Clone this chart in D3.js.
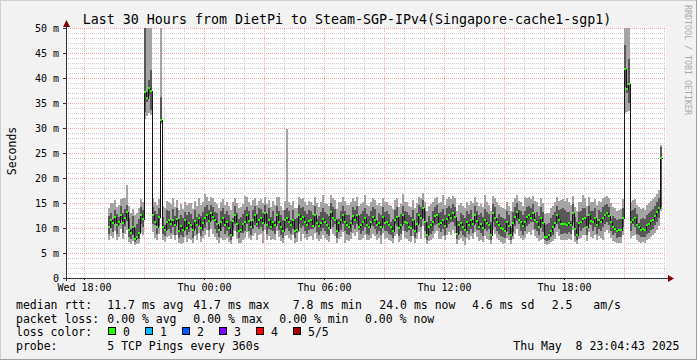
<!DOCTYPE html>
<html><head><meta charset="utf-8">
<script src="https://cdn.jsdelivr.net/npm/d3@7"></script>
<style>
html,body{margin:0;padding:0;background:#f2f2f2}
svg{display:block}
text{font-family:"DejaVu Sans Mono",monospace;fill:#000}
</style>
</head><body>
<svg id="chart" width="697" height="360"></svg>
<script>
// ---------- data ----------
const title = "Last 30 Hours from DietPi to Steam-SGP-IPv4(Singapore-cache1-sgp1)";
const endTime = Date.UTC(2025, 4, 8, 23, 4, 43);
const startTime = endTime - 30 * 3600 * 1000;
const firstSample = Date.UTC(2025, 4, 7, 19, 12, 0);
const stepSeconds = 360;

const median = [
10.3,11.6,11.0,12.3,10.6,11.2,12.7,11.0,12.0,13.3,
9.7,9.0,10.2,7.8,8.3,9.0,12.6,11.9,37.3,36.1,
38.0,37.5,12.6,11.3,10.3,12.2,31.6,10.2,9.7,11.3,
11.6,10.9,11.6,10.6,11.8,9.3,10.4,9.6,11.6,10.0,
11.1,10.6,9.6,11.4,10.6,12.1,10.0,11.0,12.0,12.7,
11.5,13.0,12.2,11.6,10.8,9.6,11.2,12.0,10.6,11.2,
10.1,8.6,11.4,12.7,10.9,9.3,9.6,10.8,11.2,12.6,
11.4,10.3,11.6,12.6,10.9,11.6,12.0,11.0,13.0,10.6,
11.6,10.3,11.2,10.6,12.6,11.3,10.3,9.3,11.6,12.0,
11.2,10.6,11.6,9.3,9.6,12.6,11.9,12.2,11.2,10.6,
11.5,11.6,10.4,12.6,11.0,10.4,11.0,11.8,11.2,10.6,
10.0,13.3,12.0,11.6,9.3,11.0,11.6,12.6,11.2,10.6,
10.3,11.0,12.4,11.6,12.6,10.3,10.6,11.2,12.0,10.6,
10.3,11.3,12.2,11.6,10.6,11.1,10.3,12.3,11.0,11.2,
10.6,10.3,9.3,11.6,12.3,10.0,10.6,12.6,11.2,11.0,
10.3,10.0,11.6,9.3,10.9,12.6,12.0,14.0,11.3,8.6,
10.3,10.6,11.2,12.4,12.6,10.8,11.0,11.6,10.4,11.8,
12.6,12.0,13.0,12.3,8.9,10.6,11.0,10.3,9.6,11.2,
10.6,11.6,10.9,12.6,11.4,10.3,10.8,10.0,11.6,11.0,
10.6,8.6,13.0,12.1,11.2,10.6,10.0,9.8,9.3,11.2,
10.4,8.6,11.0,12.2,13.3,11.6,11.2,10.4,11.2,12.2,
12.6,12.0,13.0,11.6,11.2,10.3,12.1,11.0,8.3,8.3,
8.5,9.5,10.3,11.0,12.6,11.6,10.8,10.8,10.9,10.6,
11.0,10.6,13.0,9.9,8.6,11.0,11.3,11.8,12.0,10.3,
12.6,11.4,11.2,12.0,10.6,11.6,11.3,12.0,12.6,13.0,
12.4,11.2,10.3,9.8,9.3,9.6,9.6,12.0,41.7,37.9,
38.8,11.3,11.6,12.0,10.6,10.2,9.6,9.8,9.6,10.6,
10.9,11.4,11.7,12.4,13.2,14.0,24.0];

const pingMin = [
7.6,8.4,8.1,9.3,7.7,8.2,9.8,7.9,8.9,9.6,
7.2,6.9,7.4,6.6,6.8,7.0,9.0,8.7,31.8,32.4,
33.0,32.6,9.2,8.1,7.6,8.8,30.9,7.5,7.3,8.3,
8.4,7.9,8.6,7.5,8.7,7.0,6.9,7.1,8.2,7.3,
7.8,7.6,7.0,8.4,7.5,9.0,7.2,8.0,8.6,9.6,
8.2,9.8,8.8,8.3,7.7,7.1,8.0,7.6,7.6,8.1,
7.3,6.8,8.2,9.3,7.9,7.0,7.1,7.7,8.0,9.2,
8.1,7.5,8.4,9.0,7.6,8.5,8.8,7.0,9.6,7.6,
8.4,7.6,7.9,7.6,9.4,8.2,7.4,7.0,8.4,8.6,
8.0,7.6,8.5,7.0,7.2,9.2,7.4,8.9,8.0,7.5,
8.2,8.4,7.5,9.1,7.8,7.4,7.9,8.6,8.1,7.6,
7.2,9.9,8.8,8.4,7.0,7.8,8.3,9.2,7.0,7.6,
7.4,7.9,9.0,8.4,9.2,7.5,7.6,8.0,8.7,7.5,
7.5,8.1,8.9,8.4,7.6,8.0,6.8,9.0,7.9,8.1,
7.6,7.4,7.0,8.4,8.9,7.3,7.6,9.3,8.0,7.9,
7.4,7.2,8.4,7.0,7.8,9.2,7.8,10.4,8.1,6.8,
7.4,7.6,8.0,9.1,9.3,7.8,7.9,8.4,7.5,8.6,
9.2,8.7,9.6,9.0,6.9,7.6,8.0,7.4,6.7,8.0,
7.6,8.4,7.8,9.2,8.2,7.4,7.7,7.2,8.4,7.9,
7.6,6.8,9.6,8.8,8.0,7.5,7.2,6.8,7.0,8.0,
7.5,6.8,7.9,8.9,9.8,8.4,8.0,7.5,8.0,8.9,
9.2,8.7,9.6,8.4,8.0,7.4,7.6,7.9,6.8,6.7,
6.9,7.2,7.4,7.9,9.2,8.4,7.6,7.6,7.7,7.5,
7.9,7.6,9.6,7.3,6.8,7.9,8.1,8.6,8.7,7.4,
9.2,8.2,8.0,8.7,7.6,8.4,8.1,7.6,9.2,9.6,
9.0,8.0,7.4,7.2,7.0,7.1,7.1,8.7,33.0,33.2,
33.4,8.1,8.4,8.7,7.6,7.3,7.0,7.2,7.0,7.6,
7.8,8.2,8.5,9.1,9.7,10.4,13.4];

const pingQ1 = [
8.9,10.1,9.2,11.0,8.8,10.7,11.6,9.1,10.4,11.5,
8.3,7.9,8.6,7.3,7.9,7.9,10.9,10.2,33.2,35.2,
36.4,33.6,10.8,10.6,8.9,10.5,31.3,8.8,8.4,9.6,
9.8,9.1,10.2,8.7,11.2,8.1,8.6,8.2,9.7,8.6,
9.2,10.0,8.1,9.9,8.9,10.6,8.4,9.3,10.1,11.2,
9.6,11.4,11.6,9.8,9.0,8.2,9.4,10.3,8.8,9.5,
8.4,7.6,9.6,10.9,9.2,8.0,9.0,9.1,9.4,10.8,
9.5,8.7,9.8,10.7,10.2,9.9,10.2,9.3,11.2,8.9,
9.8,9.7,9.3,8.9,10.9,9.6,8.7,8.0,9.8,10.1,
9.4,8.9,9.9,8.0,9.0,10.8,10.0,10.4,9.3,8.8,
9.6,9.9,9.8,10.7,9.2,8.6,9.3,10.0,9.5,8.8,
8.4,11.6,10.2,10.9,8.0,9.2,9.7,10.8,9.4,8.9,
8.6,9.2,10.6,9.8,10.8,9.7,8.9,9.4,10.2,8.8,
8.7,10.6,10.4,9.8,8.8,9.4,8.6,10.5,9.3,9.5,
8.9,8.7,8.0,10.9,10.4,8.4,8.9,10.8,9.4,9.2,
9.6,8.4,9.8,8.0,9.1,10.8,10.2,12.1,9.5,7.6,
8.6,8.9,9.4,10.6,10.9,10.0,9.2,9.8,8.7,10.0,
10.8,11.2,11.2,10.5,7.8,8.9,9.3,8.6,8.2,9.4,
8.9,9.8,9.1,10.8,9.6,9.6,9.0,8.4,9.8,9.3,
9.9,7.6,11.2,10.3,9.4,8.8,8.4,8.3,8.0,9.4,
8.7,7.6,9.2,10.4,11.5,10.9,9.4,8.7,9.4,10.4,
10.8,11.3,11.2,9.8,9.4,8.6,10.3,9.2,7.5,7.4,
7.6,8.2,8.6,10.2,10.8,9.8,8.8,8.9,9.0,8.8,
9.2,8.9,11.2,8.4,7.6,10.3,9.5,10.0,10.2,8.6,
10.8,10.7,9.4,10.2,8.9,9.8,9.5,10.2,10.8,11.2,
10.6,9.4,8.6,9.1,8.0,8.2,8.2,10.2,38.3,37.0,
35.0,9.5,10.9,10.2,8.9,8.5,8.2,8.3,8.2,8.9,
9.1,9.6,9.9,10.6,11.3,12.0,14.3];

const pingQ3 = [
12.4,13.1,11.8,13.6,12.9,12.2,14.4,13.0,13.8,14.6,
12.0,9.8,12.4,10.1,10.8,11.9,14.2,13.6,55,37.2,
39.5,41.6,14.3,13.4,12.8,13.9,36.2,12.3,10.6,13.7,
13.4,11.5,13.8,12.4,13.9,11.8,12.7,12.1,13.2,12.6,
13.3,12.8,11.9,13.6,12.2,12.8,12.5,13.2,14.2,14.6,
13.6,14.6,14.1,13.2,13.0,10.4,13.5,14.0,12.9,13.4,
12.6,11.4,12.0,14.5,13.0,11.8,12.2,12.9,13.6,14.3,
13.5,11.2,13.7,14.4,12.8,13.9,13.8,13.1,14.7,12.9,
13.9,12.3,13.5,11.4,14.5,13.4,12.6,11.6,13.6,14.0,
13.4,11.6,13.6,11.9,12.1,14.6,13.9,14.1,13.5,12.8,
13.7,13.5,12.7,14.5,11.8,12.4,13.3,13.9,13.2,12.9,
12.4,15.0,14.1,13.8,11.8,11.8,13.4,14.4,13.5,12.7,
12.6,11.7,14.3,13.7,14.5,12.4,12.9,13.4,14.0,12.8,
12.5,13.5,14.2,13.8,11.4,13.1,12.6,14.3,13.2,13.5,
12.8,11.2,11.9,13.7,14.3,12.3,12.9,14.5,13.4,13.2,
12.6,12.3,13.6,10.4,13.1,14.6,14.1,15.6,13.5,11.2,
12.5,11.5,13.4,14.3,14.6,13.1,13.2,13.8,12.6,13.9,
14.5,14.0,14.8,14.2,11.4,11.5,13.1,12.6,12.1,13.4,
12.8,13.6,11.7,14.5,13.4,12.6,13.0,12.3,13.8,13.2,
12.8,11.2,14.8,14.1,12.0,12.8,12.3,12.0,11.8,13.4,
12.6,10.0,13.2,14.2,15.0,13.7,13.5,12.6,13.4,14.2,
14.5,14.0,14.8,12.3,13.3,12.5,14.1,13.2,10.6,10.8,
11.0,12.0,12.6,13.2,14.5,13.6,13.8,14.0,13.6,13.3,
13.3,11.4,14.8,12.2,11.2,13.2,13.4,13.9,14.0,12.5,
14.5,13.4,13.4,14.0,11.5,13.7,13.3,14.1,14.6,14.8,
14.3,11.9,12.4,12.0,11.6,11.8,11.9,14.0,46.6,38.6,
43.8,13.4,13.7,14.0,12.8,11.0,11.9,12.0,11.8,12.6,
13.0,13.5,13.8,14.4,15.1,15.9,26.3];

const pingMax = [
14.0,14.9,15.0,15.6,14.2,14.6,15.8,16.0,15.9,18.6,
14.4,13.0,13.8,12.6,13.1,13.9,15.7,15.2,62,58,
56,54,16.0,15.1,14.6,15.8,57,14.4,13.9,15.5,
15.2,14.8,15.9,14.1,15.6,13.7,14.8,13.8,15.3,14.6,
15.0,14.9,13.8,15.4,14.4,15.9,14.6,15.1,16.8,16.3,
15.4,16.2,15.9,15.1,14.8,14.0,15.2,15.8,14.6,15.3,
14.5,13.6,15.3,16.0,14.9,13.9,14.2,14.8,16.4,16.1,
15.2,14.6,15.6,16.0,14.7,15.5,15.7,15.0,16.3,14.8,
15.6,14.3,15.4,14.6,16.1,16.3,14.4,13.6,15.5,29.8,
15.1,14.7,15.5,13.9,14.0,16.2,15.7,15.9,15.3,14.6,
15.5,15.2,14.6,16.1,15.0,14.3,15.2,16.6,15.0,14.8,
14.4,16.6,15.9,15.6,13.8,15.1,15.3,16.1,15.4,14.6,
14.6,15.1,16.0,15.5,16.2,14.4,14.8,15.2,16.7,14.7,
14.4,15.3,16.0,15.6,14.7,15.0,14.5,16.0,15.1,15.3,
14.7,14.5,13.8,15.6,16.0,14.2,14.8,16.9,15.2,15.1,
14.5,14.3,15.6,13.9,15.0,16.3,15.9,17.0,15.3,13.4,
14.5,14.8,15.2,16.0,16.3,15.0,15.1,16.6,14.6,15.8,
16.2,15.8,16.5,16.0,13.5,14.7,15.0,14.5,14.0,15.2,
14.6,15.5,15.0,16.2,15.3,14.5,14.8,14.2,16.6,15.1,
14.7,13.4,16.5,15.9,15.3,14.6,14.3,14.0,13.8,15.2,
14.5,13.4,15.1,16.0,16.7,15.5,15.3,14.5,16.2,16.0,
16.2,15.8,16.5,15.5,15.2,14.4,15.9,15.0,12.8,13.0,
13.1,14.0,14.5,15.1,16.2,15.5,15.6,15.8,15.5,16.0,
15.2,14.7,16.5,14.1,13.4,15.1,15.3,16.6,15.9,14.4,
16.2,15.2,15.3,15.8,14.6,15.5,15.1,15.9,16.3,16.5,
16.0,15.0,14.3,13.9,13.5,13.7,13.8,15.8,60,56,
55,15.3,15.6,15.8,14.7,14.2,13.8,13.9,13.7,14.6,
14.9,15.4,15.7,16.2,16.9,17.6,26.6];

const yTicks = [0, 5, 10, 15, 20, 25, 30, 35, 40, 45, 50];
const yTickLabels = ["0", "5 m", "10 m", "15 m", "20 m", "25 m", "30 m", "35 m", "40 m", "45 m", "50 m"];
const xTickLabels = ["Wed 18:00", "Thu 00:00", "Thu 06:00", "Thu 12:00", "Thu 18:00"];
const lossLabels = ["0", "1", "2", "3", "4", "5/5"];
const lossColors = ["#26ff00", "#00b8ff", "#0059ff", "#7e00ff", "#ff0000", "#a10000"];
const rttStats = ["11.7 ms avg", "41.7 ms max", "7.8 ms min", "24.0 ms now", "4.6 ms sd", "2.5", "am/s"];
const lossStats = ["0.00 % avg", "0.00 % max", "0.00 % min", "0.00 % now"];
const probeText = "5 TCP Pings every 360s";
const stampText = "Thu May \u00a08 23:04:43 2025";

// ---------- layout ----------
const W = 697, H = 360;
const L = 66, R = 666, T = 28, B = 278;
const yMax = 50;

const svg = d3.select("#chart");
const x = d3.scaleUtc().domain([startTime, endTime]).rangeRound([L, R]);
const y = d3.scaleLinear().domain([0, yMax]).rangeRound([B, T]);

// background + frame
svg.append("rect").attr("width", W).attr("height", H).attr("fill", "#f2f2f2");
svg.append("path").attr("d", `M0,${H} V0 H${W}`).attr("fill", "none").attr("stroke", "#cfcfcf").attr("stroke-width", 2);
svg.append("path").attr("d", `M0,${H} H${W} V0`).attr("fill", "none").attr("stroke", "#9e9e9e").attr("stroke-width", 2);
svg.append("rect").attr("x", L).attr("y", T).attr("width", R - L).attr("height", B - T).attr("fill", "#ffffff");

// grid
const hours = d3.utcHour.range(new Date(startTime), new Date(endTime));
const minorHours = hours.filter(h => h.getUTCHours() % 3 !== 0);
const majorHours = hours.filter(h => h.getUTCHours() % 3 === 0);
const minorVals = d3.range(1, yMax).filter(v => v % 5 !== 0);
const majorVals = yTicks.filter(v => v > 0);

function styleGrid(g, color) {
  g.select(".domain").remove();
  g.selectAll("text").remove();
  g.selectAll("line").attr("stroke", color).attr("stroke-dasharray", "1,1").attr("shape-rendering", "crispEdges");
}
svg.append("g").attr("transform", `translate(0,${B})`)
  .call(d3.axisBottom(x).tickValues(minorHours).tickSize(-(B - T)).tickFormat(""))
  .call(g => styleGrid(g, "#cfcfcf"));
svg.append("g").attr("transform", `translate(${L},0)`)
  .call(d3.axisLeft(y).tickValues(minorVals).tickSize(-(R - L)).tickFormat(""))
  .call(g => styleGrid(g, "#cfcfcf"));
svg.append("g").attr("transform", `translate(0,${B})`)
  .call(d3.axisBottom(x).tickValues(majorHours).tickSize(-(B - T)).tickFormat(""))
  .call(g => styleGrid(g, "#f5aaaa"));
svg.append("g").attr("transform", `translate(${L},0)`)
  .call(d3.axisLeft(y).tickValues(majorVals).tickSize(-(R - L)).tickFormat(""))
  .call(g => styleGrid(g, "#f5aaaa"));

// samples
const step = stepSeconds * 1000;
const samples = median.map((m, i) => ({
  t0: firstSample + i * step, t1: firstSample + (i + 1) * step,
  lo: pingMin[i], q1: pingQ1[i], med: m, q3: pingQ3[i], hi: pingMax[i]
}));
const cl = v => Math.min(v, yMax);

const smoke = svg.append("g").attr("shape-rendering", "crispEdges");
smoke.selectAll("rect.light").data(samples).join("rect").attr("class", "light")
  .attr("x", d => x(d.t0)).attr("width", d => x(d.t1) - x(d.t0))
  .attr("y", d => y(cl(d.hi))).attr("height", d => y(cl(d.lo)) - y(cl(d.hi)))
  .attr("fill", "#a4a4a4");
smoke.selectAll("rect.dark").data(samples).join("rect").attr("class", "dark")
  .attr("x", d => x(d.t0)).attr("width", d => x(d.t1) - x(d.t0))
  .attr("y", d => y(cl(d.q3))).attr("height", d => y(cl(d.q1)) - y(cl(d.q3)))
  .attr("fill", "#585858");

const pts = samples.map(d => [d.t0, d.med]);
pts.push([samples[samples.length - 1].t1, samples[samples.length - 1].med]);
svg.append("path").datum(pts)
  .attr("d", d3.line().x(p => x(p[0]) + 0.5).y(p => y(p[1]) + 0.5).curve(d3.curveStepAfter))
  .attr("fill", "none").attr("stroke", "#141414").attr("stroke-width", 1).attr("shape-rendering", "crispEdges");

const marks = svg.append("g").attr("shape-rendering", "crispEdges");
marks.selectAll("rect.med").data(samples).join("rect").attr("class", "med")
  .attr("x", d => x(d.t0)).attr("width", d => x(d.t1) - x(d.t0))
  .attr("y", d => y(d.med) - 1).attr("height", 2)
  .attr("fill", lossColors[0]);

// axes
const yAxis = svg.append("g").attr("transform", `translate(${L},0)`)
  .call(d3.axisLeft(y).tickValues(yTicks).tickFormat((d, i) => yTickLabels[i]).tickSize(3).tickPadding(4));
yAxis.select(".domain").remove();
yAxis.selectAll("line").attr("stroke", "#333").attr("shape-rendering", "crispEdges");
yAxis.selectAll("text").attr("font-size", "10px").attr("font-family", "DejaVu Sans Mono");

const sixHours = d3.utcHour.every(6).range(new Date(startTime), new Date(endTime));
const xAxis = svg.append("g").attr("transform", `translate(0,${B})`)
  .call(d3.axisBottom(x).tickValues(sixHours).tickFormat((d, i) => xTickLabels[i]).tickSize(2).tickPadding(4));
xAxis.select(".domain").remove();
xAxis.selectAll("line").attr("stroke", "#333").attr("shape-rendering", "crispEdges");
xAxis.selectAll("text").attr("font-size", "10px").attr("font-family", "DejaVu Sans Mono");

svg.append("line").attr("x1", L + 0.5).attr("x2", L + 0.5).attr("y1", B + 3).attr("y2", T - 3)
  .attr("stroke", "#333").attr("shape-rendering", "crispEdges");
svg.append("line").attr("x1", L - 3).attr("x2", R + 2).attr("y1", B + 0.5).attr("y2", B + 0.5)
  .attr("stroke", "#333").attr("shape-rendering", "crispEdges");
svg.append("path").attr("d", `M${L + 0.5},20 L${L - 3},27 L${L + 4},27 Z`).attr("fill", "#7f0000");
svg.append("path").attr("d", `M${R + 8},${B + 0.5} L${R + 2},${B - 3} L${R + 2},${B + 4} Z`).attr("fill", "#7f0000");

// titles
svg.append("text").attr("x", 347).attr("y", 24).attr("text-anchor", "middle")
  .attr("font-size", "13.3px").text(title);
svg.append("text").attr("transform", "translate(15.5,151) rotate(-90)").attr("text-anchor", "middle")
  .attr("font-size", "11.5px").text("Seconds");
svg.append("text").attr("transform", "translate(685,5) rotate(90)")
  .attr("font-size", "8.3px").style("fill", "#aaaaaa").text("RRDTOOL / TOBI OETIKER");

// legend
const fs = "11.5px";
const rows = [308.5, 322.5, 336, 350];
svg.append("text").attr("x", 16).attr("y", rows[0]).attr("font-size", fs).text("median rtt:");
const rttX = [107.3, 193.3, 292.7, 379.3, 472, 551.7, 593.3];
svg.selectAll("text.rtt").data(rttStats).join("text").attr("class", "rtt")
  .attr("x", (d, i) => rttX[i]).attr("y", rows[0]).attr("font-size", fs).text(d => d);
svg.append("text").attr("x", 16).attr("y", rows[1]).attr("font-size", fs).text("packet loss:");
const lossX = [107.3, 193.3, 279.3, 365];
svg.selectAll("text.pl").data(lossStats).join("text").attr("class", "pl")
  .attr("x", (d, i) => lossX[i]).attr("y", rows[1]).attr("font-size", fs).text(d => d);
svg.append("text").attr("x", 16).attr("y", rows[2]).attr("font-size", fs).text("loss color:");
const swX = [108, 145, 182, 219, 256, 293];
const sw = svg.selectAll("g.sw").data(lossLabels).join("g").attr("class", "sw");
sw.append("rect").attr("x", (d, i) => swX[i] + 0.5).attr("y", 327.5).attr("width", 7).attr("height", 7)
  .attr("fill", (d, i) => lossColors[i]).attr("stroke", "#000").attr("shape-rendering", "crispEdges");
sw.append("text").attr("x", (d, i) => swX[i] + 15).attr("y", rows[2]).attr("font-size", fs).text(d => d);
svg.append("text").attr("x", 16).attr("y", rows[3]).attr("font-size", fs).text("probe:");
svg.append("text").attr("x", 107.3).attr("y", rows[3]).attr("font-size", fs).text(probeText);
svg.append("text").attr("x", 513.3).attr("y", rows[3]).attr("font-size", fs).text(stampText);
</script>
</body></html>
